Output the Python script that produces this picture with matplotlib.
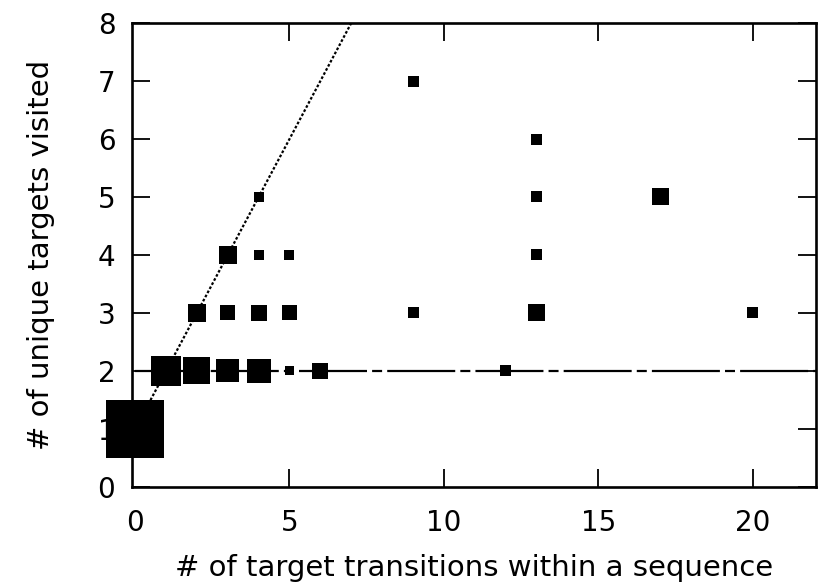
import matplotlib
matplotlib.use("Agg")
import matplotlib.pyplot as plt
import numpy as np

# transitions (x), unique targets (y), box size (relative frequency, px side)
transitions = [0, 1, 2, 3, 4, 5, 6, 12, 2, 3, 4, 5, 9, 13, 20, 3, 4, 5, 4, 13, 13, 13, 17, 9]
targets = [1, 2, 2, 2, 2, 2, 2, 2, 3, 3, 3, 3, 3, 3, 3, 4, 4, 4, 5, 4, 5, 6, 5, 7]
freq = [58, 30, 27, 23, 24, 9, 16, 11, 18, 15, 16, 15, 11, 17, 11, 18, 10, 10, 10, 11, 11, 11, 17, 11]

x_ticks = [0, 5, 10, 15, 20]
y_ticks = [0, 1, 2, 3, 4, 5, 6, 7, 8]

# reference lines: y = x + 1 and y = 2
diag_x = [0, 7]
diag_y = [1, 8]
flat_x = [0, 22.05]
flat_y = [2, 2]

plt.rcParams['font.family'] = ['DejaVu Sans']

fig = plt.figure(figsize=(8.22, 5.87), dpi=100)
ax = fig.add_axes([0.1606, 0.1704, 0.8321, 0.7904])

ax.plot(diag_x, diag_y, color='black', lw=1.6, linestyle=(0, (1.2, 0.9)), zorder=2)
ax.plot(flat_x, flat_y, color='black', lw=1.6, linestyle=(5.6, (30.6, 2.3, 4.5, 2.3)), zorder=2)

sizes = (np.array(freq) * 0.72) ** 2
ax.scatter(transitions, targets, s=sizes, marker='s', color='black',
           linewidths=0, zorder=3, clip_on=False)

ax.set_xlim(-0.1, 22.05)
ax.set_ylim(0, 8)
ax.set_xticks(x_ticks)
ax.set_yticks(y_ticks)
ax.tick_params(direction='in', length=13, width=1.3, labelsize=20,
               top=True, right=True, pad=12)
ax.tick_params(axis='x', pad=16)
# tick at x=0 sits on the spine, hide it
t0 = ax.xaxis.get_major_ticks()[0]
t0.tick1line.set_visible(False)
t0.tick2line.set_visible(False)
for sp in ax.spines.values():
    sp.set_linewidth(1.9)

ax.set_xlabel('# of target transitions within a sequence', fontsize=21, labelpad=12)
ax.set_ylabel('# of unique targets visited', fontsize=21, labelpad=31)

fig.savefig('out.png', dpi=100)
